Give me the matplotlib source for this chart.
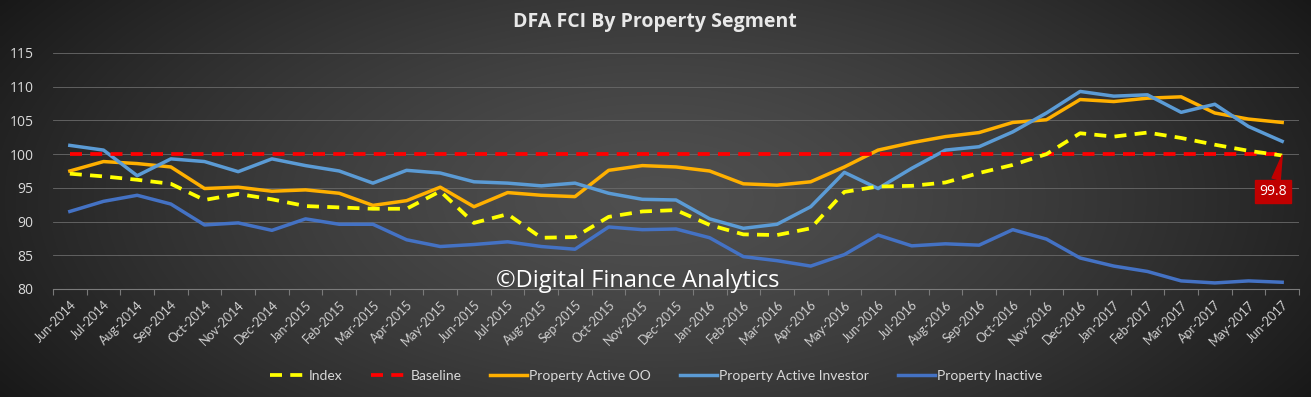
import numpy as np
import matplotlib
matplotlib.use("Agg")
import matplotlib.pyplot as plt

months = ["Jun-2014","Jul-2014","Aug-2014","Sep-2014","Oct-2014","Nov-2014","Dec-2014",
          "Jan-2015","Feb-2015","Mar-2015","Apr-2015","May-2015","Jun-2015","Jul-2015",
          "Aug-2015","Sep-2015","Oct-2015","Nov-2015","Dec-2015","Jan-2016","Feb-2016",
          "Mar-2016","Apr-2016","May-2016","Jun-2016","Jul-2016","Aug-2016","Sep-2016",
          "Oct-2016","Nov-2016","Dec-2016","Jan-2017","Feb-2017","Mar-2017","Apr-2017",
          "May-2017","Jun-2017"]

index_vals = [97.1, 96.7, 96.2, 95.6, 93.2, 94.1, 93.3, 92.3, 92.1, 91.9, 91.9, 94.5,
              89.8, 91.1, 87.6, 87.7, 90.7, 91.5, 91.7, 89.5, 88.1, 88.0, 89.0, 94.4,
              95.2, 95.3, 95.8, 97.2, 98.4, 100.0, 103.1, 102.6, 103.2, 102.4, 101.4,
              100.5, 99.8]
baseline = [100.0] * 37
active_oo = [97.5, 98.9, 98.6, 98.1, 94.9, 95.1, 94.5, 94.7, 94.2, 92.4, 93.1, 95.1,
             92.2, 94.3, 93.9, 93.7, 97.6, 98.3, 98.1, 97.5, 95.6, 95.4, 95.9, 98.1,
             100.6, 101.7, 102.6, 103.2, 104.7, 105.1, 108.1, 107.8, 108.3, 108.5,
             106.1, 105.2, 104.7]
active_inv = [101.3, 100.6, 96.8, 99.3, 98.9, 97.4, 99.3, 98.3, 97.5, 95.7, 97.6, 97.2,
              95.9, 95.7, 95.3, 95.7, 94.2, 93.3, 93.2, 90.4, 89.0, 89.6, 92.2, 97.3,
              94.9, 97.9, 100.6, 101.1, 103.3, 106.1, 109.3, 108.6, 108.8, 106.2,
              107.4, 104.1, 101.9]
inactive = [91.5, 93.0, 93.9, 92.6, 89.5, 89.8, 88.7, 90.4, 89.6, 89.6, 87.3, 86.3,
            86.6, 87.0, 86.3, 85.9, 89.2, 88.8, 88.9, 87.6, 84.8, 84.2, 83.4, 85.1,
            88.0, 86.4, 86.7, 86.5, 88.8, 87.4, 84.6, 83.4, 82.6, 81.2, 80.9, 81.2,
            81.0]

W, H = 1311, 397
fig = plt.figure(figsize=(W / 100, H / 100), dpi=100)

# background gradient
bg = fig.add_axes([0, 0, 1, 1], zorder=-10)
xx, yy = np.meshgrid(np.linspace(-1, 1, 400), np.linspace(-1, 1, 200))
r = np.sqrt((xx / 1.0) ** 2 + (yy / 1.6) ** 2)
g = 0.31 - 0.17 * np.clip(r, 0, 1.3) ** 1.4
img = np.dstack([g, g, g])
bg.imshow(img, aspect="auto", extent=[0, 1, 0, 1], interpolation="bilinear")
bg.set_axis_off()

ax = fig.add_axes([53 / W, 1 - 289 / H, (1299 - 53) / W, (289 - 53) / H])
ax.set_facecolor("none")
x = np.arange(len(months))

ax.plot(x, active_oo, color="#ffb000", lw=2.5, label="Property Active OO", zorder=3)
ax.plot(x, active_inv, color="#5b9bd5", lw=2.5, label="Property Active Investor", zorder=4)
ax.plot(x, inactive, color="#4472c4", lw=2.5, label="Property Inactive", zorder=3)
ax.plot(x, baseline, color="#ff0000", lw=2.7, ls=(0, (3.2, 2.2)), label="Baseline", zorder=5)
ax.plot(x, index_vals, color="#ffff00", lw=2.7, ls=(0, (3.2, 2.2)), label="Index", zorder=6)

ax.set_xlim(-0.5, len(months) - 0.5)
ax.set_ylim(80, 115)
ax.set_yticks(np.arange(80, 116, 5))
ax.grid(axis="y", color="#6a6a6a", lw=0.6)
ax.set_axisbelow(True)
for s in ["top", "right", "left"]:
    ax.spines[s].set_visible(False)
ax.spines["bottom"].set_color("#7a7a7a")
ax.spines["bottom"].set_linewidth(0.8)
ax.tick_params(axis="y", length=0, colors="#d9d9d9", labelsize=10, pad=14)

ax.set_xticks(x)
ax.set_xticklabels(months, rotation=45, ha="right", rotation_mode="anchor",
                   fontsize=9, color="#d0d0d0")
ax.tick_params(axis="x", which="major", length=0, pad=7)
ax.set_xticks(np.arange(-0.5, len(months), 1), minor=True)
ax.tick_params(axis="x", which="minor", length=4, color="#7a7a7a", width=0.8)

for lbl in ax.get_yticklabels():
    lbl.set_fontfamily("Open Sans")
for lbl in ax.get_xticklabels():
    lbl.set_fontfamily("Lato")

# data label callout
lx, ly = len(months) - 1, index_vals[-1]
ax.annotate(f"{index_vals[-1]:.1f}", xy=(lx, ly), xytext=(lx - 0.27, 94.5),
            ha="center", va="center", color="white", fontsize=10, fontfamily="Open Sans",
            bbox=dict(boxstyle="square,pad=0.3", fc="#c00000", ec="#c00000"),
            arrowprops=dict(arrowstyle="wedge,tail_width=0.6", fc="#c00000", ec="#c00000",
                            shrinkA=0, shrinkB=0), zorder=8)

fig.text(655 / W, 1 - 22 / H, "DFA FCI By Property Segment", ha="center", va="center",
         color="#e8e8e8", fontsize=14, fontweight="bold", fontfamily="Open Sans")

fig.text(638 / W, 1 - 281 / H, "\u00a9Digital Finance Analytics", ha="center", va="center",
         color="white", fontsize=17, fontfamily="Open Sans", zorder=10)

handles, labels = ax.get_legend_handles_labels()
order = ["Index", "Baseline", "Property Active OO", "Property Active Investor", "Property Inactive"]
hmap = dict(zip(labels, handles))
leg = fig.legend([hmap[k] for k in order], order, loc="center", bbox_to_anchor=(656 / W, 1 - 376 / H),
                 ncol=5, frameon=False, handlelength=2.65, columnspacing=2.1,
                 handletextpad=0.15, prop={"family": "Lato", "size": 10})
for t in leg.get_texts():
    t.set_color("#d9d9d9")

fig.savefig("out.png", dpi=100)
